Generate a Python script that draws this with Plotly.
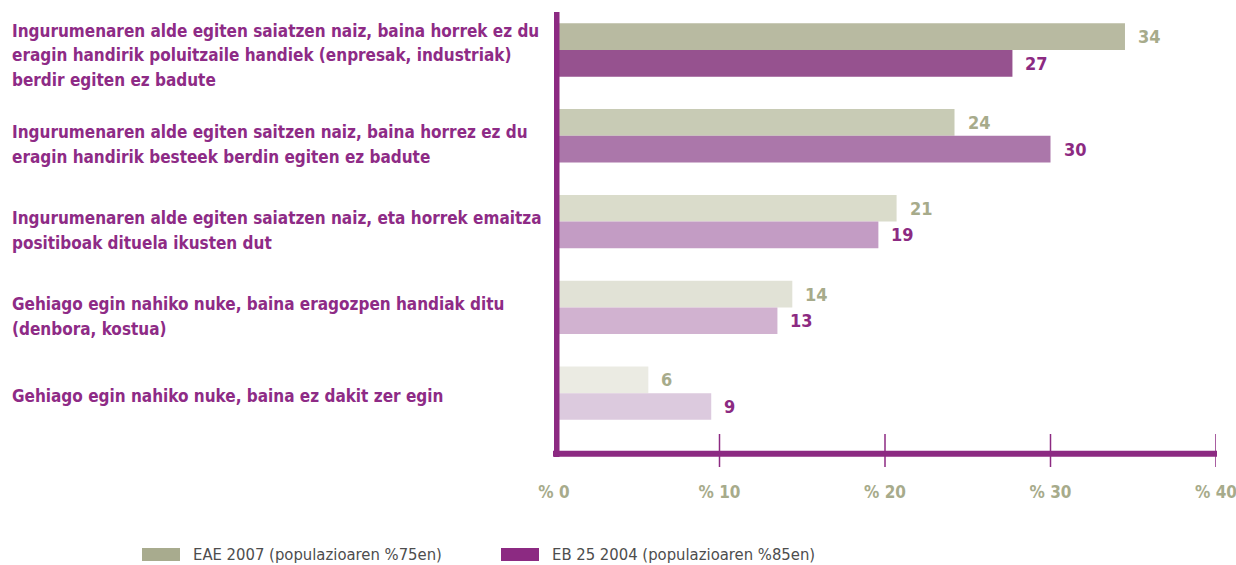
import plotly.graph_objects as go

categories = [
    "Ingurumenaren alde egiten saiatzen naiz, baina horrek ez du<br>eragin handirik poluitzaile handiek (enpresak, industriak)<br>berdir egiten ez badute",
    "Ingurumenaren alde egiten saitzen naiz, baina horrez ez du<br>eragin handirik besteek berdin egiten ez badute",
    "Ingurumenaren alde egiten saiatzen naiz, eta horrek emaitza<br>positiboak dituela ikusten dut",
    "Gehiago egin nahiko nuke, baina eragozpen handiak ditu<br>(denbora, kostua)",
    "Gehiago egin nahiko nuke, baina ez dakit zer egin",
]
series_names = ["EAE 2007 (populazioaren %75en)", "EB 25 2004 (populazioaren %85en)"]
eae2007 = [34.5, 24.2, 20.7, 14.4, 5.7]
eb2004 = [27.7, 30.0, 19.6, 13.5, 9.5]
eae2007_labels = ["34", "24", "21", "14", "6"]
eb2004_labels = ["27", "30", "19", "13", "9"]
tick_values = [0, 10, 20, 30, 40]
tick_labels = ["% 0", "% 10", "% 20", "% 30", "% 40"]

FONT = "Liberation Sans Narrow, DejaVu Sans Condensed, Arial Narrow, sans-serif"
PURPLE = "#8c2a82"
GRAY_TXT = "#a7ab8b"
gray_shades = ["#b8baa1", "#c8cbb5", "#dadccb", "#e1e2d6", "#ebebe3"]
purple_shades = ["#96528f", "#ab77aa", "#c39cc4", "#d1b2d0", "#dccade"]
label_yshift = [5, 8.5, 8.7, 9, 3]   # px, text block offset below group centre
LINE_H = 24.5

pos = list(range(len(categories)))
BARGAP = 0.378
half = (1 - BARGAP) / 4

fig = go.Figure()
fig.add_trace(go.Bar(y=pos, x=eae2007, orientation="h", name=series_names[0],
                     marker=dict(color=gray_shades, line=dict(width=0)), hoverinfo="x"))
fig.add_trace(go.Bar(y=pos, x=eb2004, orientation="h", name=series_names[1],
                     marker=dict(color=purple_shades, line=dict(width=0)), hoverinfo="x"))

W, H, L, T = 662, 442, 554, 12
def px(x):
    return (x - L) / W
def py(y):
    return (T + H - y) / H

ann = []
for i, c in enumerate(categories):
    lines = c.split("<br>")
    n = len(lines)
    for k, line in enumerate(lines):
        off = label_yshift[i] + (k - (n - 1) / 2) * LINE_H
        ann.append(dict(x=px(10), xref="paper", y=i, yref="y", text="<b>%s</b>" % line,
                        showarrow=False, xanchor="left", yanchor="middle", align="left",
                        yshift=-off, font=dict(family=FONT, size=17, color="#8e2b86")))
for i in range(len(categories)):
    ann.append(dict(x=eae2007[i], y=i - half, xref="x", yref="y", text="<b>%s</b>" % eae2007_labels[i],
                    showarrow=False, xanchor="left", yanchor="middle", xshift=11,
                    font=dict(family=FONT, size=18, color=GRAY_TXT)))
    ann.append(dict(x=eb2004[i], y=i + half, xref="x", yref="y", text="<b>%s</b>" % eb2004_labels[i],
                    showarrow=False, xanchor="left", yanchor="middle", xshift=11,
                    font=dict(family=FONT, size=18, color=PURPLE)))

# legend (manual)
legend_colors = ["#a8ab8e", PURPLE]
legend_x = [142, 501]
shapes = []
for name, col, lx in zip(series_names, legend_colors, legend_x):
    shapes.append(dict(type="rect", xref="paper", yref="paper", x0=px(lx), x1=px(lx + 38),
                       y0=py(561), y1=py(548), fillcolor=col, line=dict(width=0)))
    ann.append(dict(x=px(lx + 49), y=py(554.5), xref="paper", yref="paper", text=name,
                    showarrow=False, xanchor="left", yanchor="middle",
                    font=dict(family=FONT, size=16.5, color="#4d4d4d")))

# axis lines
shapes.append(dict(type="rect", xref="x", yref="paper", xsizemode="pixel", xanchor=0,
                   x0=-0.5, x1=5.5, y0=py(457), y1=1, fillcolor=PURPLE, line=dict(width=0)))
shapes.append(dict(type="rect", xref="paper", yref="paper",
                   x0=px(553), x1=px(1217), y0=py(456.7), y1=py(450.7),
                   fillcolor=PURPLE, line=dict(width=0)))
for tv in tick_values[1:]:
    shapes.append(dict(type="line", xref="x", yref="paper", x0=tv, x1=tv,
                       y0=py(467), y1=py(434), line=dict(color=PURPLE, width=1.5)))

fig.update_layout(
    width=1236, height=565,
    margin=dict(l=L, r=1236 - L - W, t=T, b=565 - T - H, autoexpand=False),
    paper_bgcolor="white", plot_bgcolor="white",
    barmode="group", bargap=BARGAP, bargroupgap=0,
    showlegend=False,
    annotations=ann, shapes=shapes,
    xaxis=dict(range=[0, 40], tickvals=tick_values, ticktext=["<b>%s</b>" % t for t in tick_labels],
               showgrid=False, zeroline=False, showline=False, automargin=False,
               ticks="outside", ticklen=23, tickcolor="rgba(0,0,0,0)",
               ticklabeloverflow="allow",
               tickfont=dict(family=FONT, size=17, color=GRAY_TXT)),
    yaxis=dict(range=[4.709, -0.443], showgrid=False, zeroline=False, showline=False,
               showticklabels=False, ticks="", automargin=False),
)

fig.write_html("out.html", config={"displayModeBar": False},
               post_script="document.body.style.margin='0';document.body.style.overflow='hidden';")
